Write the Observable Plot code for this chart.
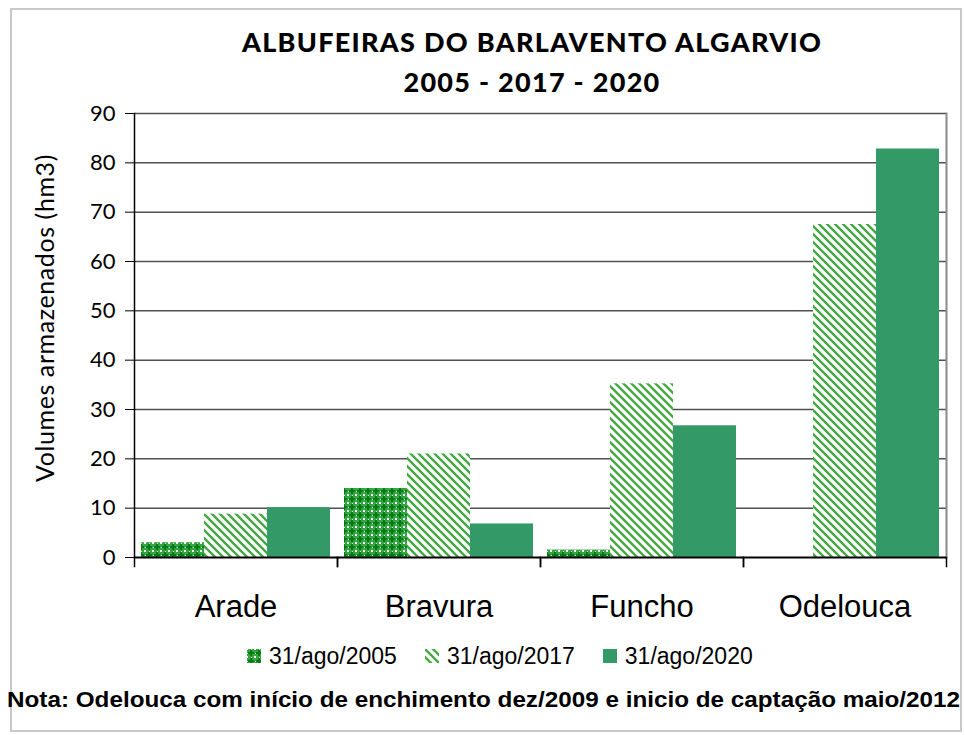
<!DOCTYPE html>
<html><head><meta charset="utf-8">
<script src="https://cdn.jsdelivr.net/npm/d3@7"></script>
<script src="https://cdn.jsdelivr.net/npm/@observablehq/plot@0.6"></script>
<style>
body{margin:0;background:#fff;}
#wrap{position:relative;width:965px;height:735px;overflow:hidden;background:#fff;}
#border{position:absolute;left:10px;top:8px;width:952px;height:724px;border:2px solid #c8c8c8;box-sizing:border-box;}
.title{position:absolute;left:182px;width:700px;text-align:center;font:900 27px Lato;letter-spacing:1.3px;line-height:30px;color:#000;white-space:nowrap;}
#ylab{position:absolute;left:44px;top:318px;transform:translate(-50%,-50%) rotate(-90deg);font:25px Lato;letter-spacing:0.6px;white-space:nowrap;color:#000;}
#chart{position:absolute;left:0;top:95px;}
#legend{position:absolute;left:247px;top:643px;display:flex;gap:28px;font:23px "Liberation Sans",Arial,sans-serif;line-height:26px;color:#000;}
#legend .item{display:flex;align-items:center;gap:8px;}
#legend svg{display:block;}
#note{position:absolute;left:0;top:680px;}
</style>
</head><body>
<div id="wrap">
  <div id="border"></div>
  <div class="title" style="top:27px">ALBUFEIRAS DO BARLAVENTO ALGARVIO</div>
  <div class="title" style="top:67px">2005 - 2017 - 2020</div>
  <div id="ylab">Volumes armazenados (hm3)</div>
  <div id="chart"></div>
  <div id="legend"></div>
  <svg id="note" width="965" height="40"><text x="7" y="27" textLength="953" lengthAdjust="spacingAndGlyphs" style="font:bold 22px 'Liberation Sans',Arial,sans-serif" fill="#000">Nota: Odelouca com início de enchimento dez/2009 e inicio de captação maio/2012</text></svg>
</div>
<script>
const categories = ["Arade", "Bravura", "Funcho", "Odelouca"];
const series = ["31/ago/2005", "31/ago/2017", "31/ago/2020"];
const v2005 = [3.0, 14.0, 1.5, 0];
const v2017 = [8.8, 21.0, 35.2, 67.5];
const v2020 = [10.1, 6.8, 26.7, 82.8];
const yTicks = [0, 10, 20, 30, 40, 50, 60, 70, 80, 90];
const fills = ["url(#p2005)", "url(#p2017)", "#339966"];

const values = [v2005, v2017, v2020];
const data = categories.flatMap((c, i) => series.map((s, j) => ({cat: c, series: s, value: values[j][i]})))
  .filter(d => d.value > 0);

const H = 535, MT = 18, MB = 73;
const plotH = H - MT - MB;

const svg = Plot.plot({
  width: 965, height: H,
  marginTop: MT, marginBottom: MB, marginLeft: 133, marginRight: 18,
  style: {background: "transparent", color: "#000", fontFamily: "Lato"},
  fx: {domain: categories, padding: 0, label: null},
  x: {domain: series, paddingInner: 0, paddingOuter: 0.09, axis: null},
  y: {domain: [0, 90], label: null},
  color: {domain: series, range: fills},
  marks: [
    Plot.ruleY(yTicks.filter(t => t > 0), {stroke: "#505050", strokeWidth: 1.5}),
    Plot.frame({facet: "super", anchor: "right", stroke: "#8a8a8a", strokeWidth: 2}),
    Plot.barY(data, {fx: "cat", x: "series", y: "value", fill: "series"}),
    Plot.ruleY([0], {stroke: "#000", strokeWidth: 2}),
    Plot.frame({facet: "super", anchor: "left", stroke: "#000", strokeWidth: 1.5}),
    Plot.frame({anchor: "left", insetTop: plotH, insetBottom: -9, stroke: "#000", strokeWidth: 1.5}),
    Plot.frame({anchor: "right", insetTop: plotH, insetBottom: -9, stroke: "#000", strokeWidth: 1.5}),
    Plot.axisY({ticks: yTicks, tickSize: 9, tickPadding: 10, fontSize: 22, fontFamily: "Lato", label: null, stroke: "#000"}),
    Plot.axisFx({anchor: "bottom", tickSize: 0, tickPadding: 37, fontSize: 31, fontFamily: "'Liberation Sans', Arial, sans-serif", label: null})
  ]
});

const defs = `<defs>
<pattern id="p2005" width="8" height="8" patternUnits="userSpaceOnUse">
  <rect width="8" height="8" fill="#34a542"/>
  <rect x="3" y="1" width="2" height="6" fill="#067a14"/>
  <rect x="1" y="3" width="6" height="2" fill="#067a14"/>
  <rect x="0" y="0" width="1" height="1" fill="#ffffff"/>
  <rect x="7" y="0" width="1" height="1" fill="#ffffff"/>
  <rect x="0" y="7" width="1" height="1" fill="#ffffff"/>
  <rect x="7" y="7" width="1" height="1" fill="#ffffff"/>
  <rect x="4" y="0" width="1" height="1" fill="#c8e8c8"/>
  <rect x="0" y="4" width="1" height="1" fill="#c8e8c8"/>
</pattern>
<pattern id="p2017" width="8" height="8" patternUnits="userSpaceOnUse">
  <rect width="8" height="8" fill="#ffffff"/>
  <path d="M-1,-1L9,9M-5,3L5,13M3,-5L13,5" stroke="#45a845" stroke-width="2.4"/>
</pattern>
</defs>`;
svg.insertAdjacentHTML("afterbegin", defs);
document.getElementById("chart").appendChild(svg);

const legend = d3.select("#legend");
series.forEach((s, j) => {
  const item = legend.append("div").attr("class", "item");
  item.append("svg").attr("width", 14).attr("height", 14)
    .append("rect").attr("width", 14).attr("height", 14).attr("fill", fills[j]);
  item.append("span").text(s);
});
</script>
</body></html>
